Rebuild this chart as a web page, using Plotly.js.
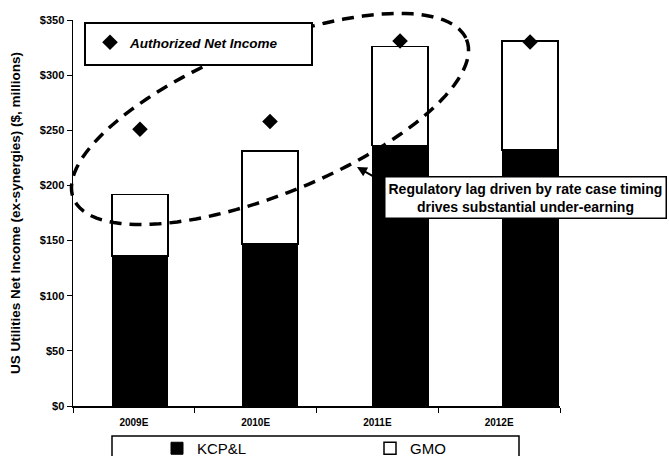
<!DOCTYPE html>
<html><head><meta charset="utf-8">
<script src="https://cdn.plot.ly/plotly-3.0.1.min.js"></script>
<style>html,body{margin:0;padding:0;background:#fff}</style>
</head><body><div id="chart" style="width:669px;height:456px"></div>
<script>
const years = ['2009E', '2010E', '2011E', '2012E'];
const kcpl = [136, 147, 236, 232];
const gmo = [56, 84, 90, 99];
const authorized = [251, 258, 331, 330];
const yTickVals = [0, 50, 100, 150, 200, 250, 300, 350];
const yTickText = ['$0', '$50', '$100', '$150', '$200', '$250', '$300', '$350'];

const FONT = 'Liberation Sans, Arial, sans-serif';
const W = 669, H = 456, L = 73, R = 560, T = 20, B = 406;
const px = x => (x - L) / (R - L);
const py = y => (B - y) / (B - T);

// dashed ellipse decoration (pixel geometry -> paper coords)
function ellipsePath(cx, cy, a, b, deg) {
  const al = deg * Math.PI / 180, ca = Math.cos(al), sa = Math.sin(al);
  let d = '';
  for (let i = 0; i <= 120; i++) {
    const t = i / 120 * 2 * Math.PI;
    const X = cx + a * Math.cos(t) * ca - b * Math.sin(t) * sa;
    const Y = cy + a * Math.cos(t) * sa + b * Math.sin(t) * ca;
    d += (i === 0 ? 'M' : 'L') + px(X).toFixed(4) + ',' + py(Y).toFixed(4);
  }
  return d + 'Z';
}

const traces = [
  // carries the category labels of the bottom axis (draws nothing)
  {type: 'scatter', mode: 'markers', x: years, y: years.map(() => null), xaxis: 'x',
   showlegend: false, hoverinfo: 'skip'},
  {type: 'bar', name: 'KCP&L', x: years, y: kcpl, xaxis: 'x2', width: 0.43,
   marker: {color: '#000', line: {color: '#000', width: 1}}, legend: 'legend'},
  {type: 'bar', name: 'GMO', x: years, y: gmo, xaxis: 'x2', width: 0.43,
   marker: {color: '#fff', line: {color: '#000', width: 1.5}}, legend: 'legend'},
  {type: 'scatter', mode: 'markers', name: 'Authorized Net Income', x: years, y: authorized, xaxis: 'x2',
   marker: {symbol: 'diamond', size: 12, color: '#000'}, legend: 'legend2'}
];

const layout = {
  width: W, height: H,
  margin: {l: L, r: W - R, t: T, b: H - B, autoexpand: false},
  paper_bgcolor: '#fff', plot_bgcolor: '#fff',
  barmode: 'stack',
  font: {family: FONT, color: '#000'},
  xaxis: {type: 'category', categoryorder: 'array', categoryarray: years, range: [-0.5, 3.5],
    showline: true, linecolor: '#000', linewidth: 1.5, ticks: 'outside', tickson: 'boundaries',
    ticklen: 5, tickcolor: '#000', tickwidth: 1, showgrid: false, zeroline: false, ticklabelstandoff: 6,
    tickfont: {family: FONT, size: 10, weight: 'bold', color: '#000'}, fixedrange: true},
  xaxis2: {type: 'category', categoryorder: 'array', categoryarray: years, overlaying: 'x',
    range: [-0.515, 3.23], visible: false, fixedrange: true},
  yaxis: {range: [0, 350], tickvals: yTickVals, ticktext: yTickText, ticks: 'outside', ticklen: 5,
    tickcolor: '#000', showline: true, linecolor: '#000', linewidth: 1.5, showgrid: false, zeroline: false,
    tickfont: {family: FONT, size: 11, weight: 'bold', color: '#000'},
    title: {text: 'US Utilities Net Income (ex-synergies) ($, millions)', standoff: 16,
      font: {family: FONT, size: 13.5, weight: 'bold', color: '#000'}}, fixedrange: true},
  showlegend: true,
  legend: {orientation: 'h', xref: 'container', yref: 'container', x: 157 / W, y: 24 / H,
    xanchor: 'left', yanchor: 'top', entrywidth: 168, bgcolor: 'rgba(0,0,0,0)', borderwidth: 0,
    font: {family: FONT, size: 15, color: '#000'}, traceorder: 'normal'},
  legend2: {orientation: 'h', xref: 'container', yref: 'container', x: 90 / W, y: 1 - 27 / H,
    xanchor: 'left', yanchor: 'top', bgcolor: 'rgba(0,0,0,0)', borderwidth: 0,
    font: {family: FONT, size: 13.5, weight: 'bold', style: 'italic', color: '#000'}},
  shapes: [
    {type: 'path', xref: 'paper', yref: 'paper', path: ellipsePath(270, 119, 212, 75, -22),
     line: {color: '#000', width: 3.5, dash: '12px,8px'}, layer: 'above'},
    {type: 'rect', xref: 'paper', yref: 'paper', x0: px(85), x1: px(312), y0: py(23), y1: py(65),
     line: {color: '#000', width: 2}, fillcolor: '#fff', layer: 'above'},
    {type: 'rect', xref: 'paper', yref: 'paper', x0: px(112), x1: px(519), y0: py(436), y1: py(480),
     line: {color: '#000', width: 1.5}, fillcolor: 'rgba(0,0,0,0)'}
  ],
  annotations: [
    {xref: 'paper', yref: 'paper', x: px(357), y: py(167), text: '', showarrow: true,
     ax: 28, ay: 16, arrowhead: 2, arrowsize: 1, arrowwidth: 2, arrowcolor: '#000'},
    {xref: 'paper', yref: 'paper', x: px(525), y: py(197), xanchor: 'center', yanchor: 'middle',
     text: 'Regulatory lag driven by rate case timing<br>drives substantial under-earning',
     showarrow: false, bgcolor: '#fff', bordercolor: '#000', borderwidth: 1.5, borderpad: 3,
     font: {family: FONT, size: 14, weight: 'bold', color: '#000'}}
  ]
};

Plotly.newPlot('chart', traces, layout, {displayModeBar: false, staticPlot: true});
</script>
</body></html>
